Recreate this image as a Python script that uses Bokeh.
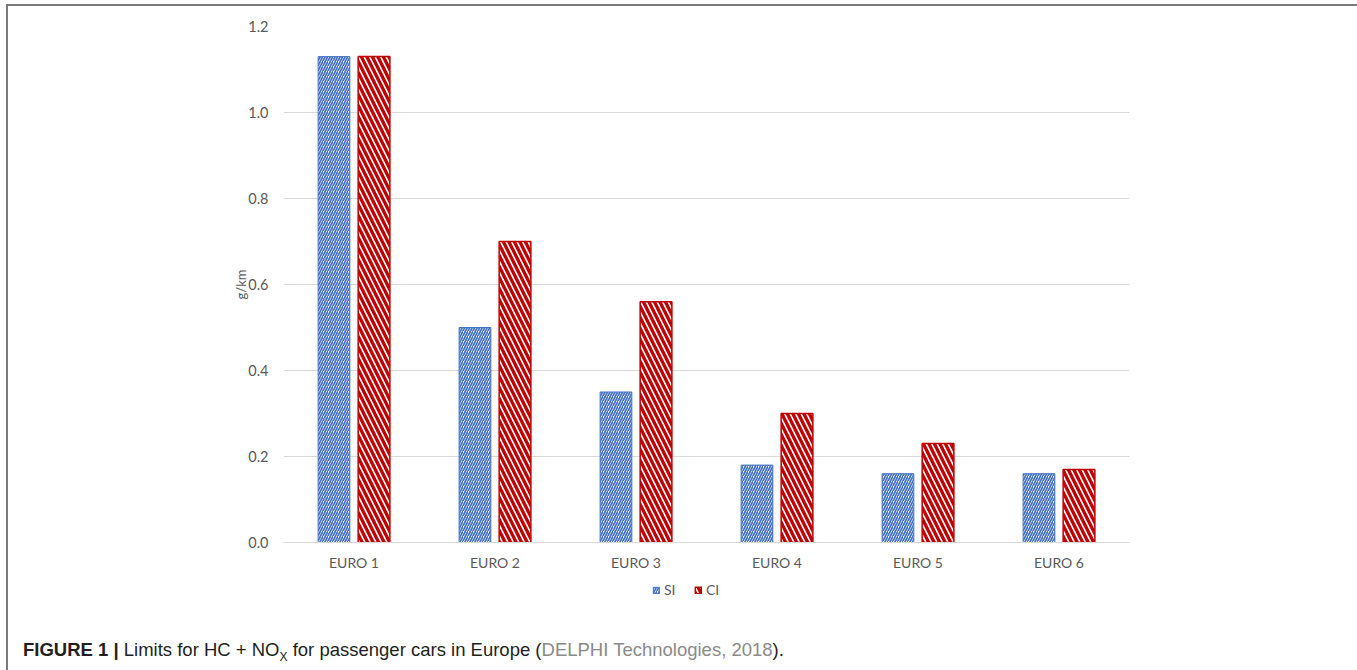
from bokeh.plotting import figure
from bokeh.layouts import column
from bokeh.models import (ColumnDataSource, FactorRange, Range1d, FixedTicker,
                          PrintfTickFormatter, Legend, LegendItem, Div)
from bokeh.transform import dodge
from bokeh.embed import file_html
from bokeh.resources import INLINE

# Emission limits (g/km) for HC + NOx, passenger cars
categories = ["EURO 1", "EURO 2", "EURO 3", "EURO 4", "EURO 5", "EURO 6"]
si_values = [1.13, 0.50, 0.35, 0.18, 0.16, 0.16]
ci_values = [1.13, 0.70, 0.56, 0.30, 0.23, 0.17]
y_ticks = [0.0, 0.2, 0.4, 0.6, 0.8, 1.0, 1.2]
series_labels = ["SI", "CI"]

source = ColumnDataSource(dict(cat=categories, si=si_values, ci=ci_values))

TICK_FONT = "Lato"
GREY_TEXT = "#595959"
SI_BLUE = "#4472C4"
CI_RED = "#C00000"
FRAME_GREY = "#7a7a7a"

SI_STYLE = dict(fill_color="white", line_color=SI_BLUE, line_width=1,
                hatch_pattern="right_diagonal_line", hatch_color=SI_BLUE,
                hatch_scale=5, hatch_weight=1.7)
CI_STYLE = dict(fill_color="white", line_color=CI_RED, line_width=1.5,
                hatch_pattern="left_diagonal_line", hatch_color=CI_RED,
                hatch_scale=11, hatch_weight=3.3)

p = figure(
    x_range=FactorRange(*categories),
    y_range=Range1d(0, 1.2),
    width=1347, height=574,
    output_backend="svg", toolbar_location=None,
    min_border_left=275, min_border_right=226,
    min_border_top=20, min_border_bottom=38,
    background_fill_color="white", border_fill_color="white",
)
p.outline_line_color = None

r_si = p.vbar(x=dodge("cat", -0.142, range=p.x_range), top="si", width=0.225,
              source=source, **SI_STYLE)
r_ci = p.vbar(x=dodge("cat", 0.142, range=p.x_range), top="ci", width=0.225,
              source=source, **CI_STYLE)

# y axis
p.yaxis.ticker = FixedTicker(ticks=y_ticks)
p.yaxis.formatter = PrintfTickFormatter(format="%.1f")
p.yaxis.axis_line_color = None
p.yaxis.major_tick_line_color = None
p.yaxis.major_tick_out = 0
p.yaxis.minor_tick_line_color = None
p.yaxis.major_label_standoff = 15
p.yaxis.major_label_text_font = TICK_FONT
p.yaxis.major_label_text_font_size = "14.5px"
p.yaxis.major_label_text_color = GREY_TEXT
p.yaxis.axis_label = "g/km"
p.yaxis.axis_label_text_font = TICK_FONT
p.yaxis.axis_label_text_font_size = "13px"
p.yaxis.axis_label_text_font_style = "normal"
p.yaxis.axis_label_text_color = GREY_TEXT
p.yaxis.axis_label_standoff = -4

# x axis
p.xaxis.axis_line_color = "#d9d9d9"
p.xaxis.axis_line_width = 1
p.xaxis.major_tick_line_color = None
p.xaxis.major_tick_out = 0
p.xaxis.minor_tick_line_color = None
p.xaxis.major_label_standoff = 11
p.xaxis.major_label_text_font = TICK_FONT
p.xaxis.major_label_text_font_size = "14px"
p.xaxis.major_label_text_color = GREY_TEXT

# grid
p.xgrid.grid_line_color = None
p.ygrid.ticker = FixedTicker(ticks=y_ticks)
p.ygrid.grid_line_color = "#d9d9d9"
p.ygrid.grid_line_width = 1

# legend strip under the chart; its renderers are zero-area proxies that
# carry the bar styles for the legend swatches
key = figure(
    width=1347, height=30, output_backend="svg", toolbar_location=None,
    min_border=0, x_range=FactorRange(*categories), y_range=Range1d(1000, 1001),
    background_fill_color="white", border_fill_color="white",
)
key.axis.visible = False
key.grid.visible = False
key.outline_line_color = None
k_si = key.vbar(x="cat", top="si", bottom="si", width=0, source=source, **SI_STYLE)
k_ci = key.vbar(x="cat", top="ci", bottom="ci", width=0, source=source, **CI_STYLE)
legend = Legend(
    items=[LegendItem(label=series_labels[0], renderers=[k_si]),
           LegendItem(label=series_labels[1], renderers=[k_ci])],
    orientation="horizontal", location=(369, 12),
    glyph_width=8, glyph_height=8, label_standoff=4, spacing=10,
    label_height=14, padding=0, margin=0,
    border_line_color=None, background_fill_alpha=0,
    label_text_font=TICK_FONT, label_text_font_size="14px",
    label_text_color=GREY_TEXT,
)
key.add_layout(legend)

caption = Div(
    text=('<span style="font-weight:bold">FIGURE 1 |</span> Limits for HC + NO<sub style="font-size:12px">X</sub>'
          ' for passenger cars in Europe (<span style="color:#8a8a8a">DELPHI Technologies, 2018</span>).'),
    width=1347, height=60,
    styles={"font-family": "Liberation Sans", "font-size": "18.5px", "line-height": "22px",
            "color": "#231f20", "padding-left": "10px", "padding-top": "24px",
            "box-sizing": "border-box"},
)

page = column(
    p, key, caption,
    styles={"margin-left": "6px", "margin-top": "4px",
            "border-top": f"2px solid {FRAME_GREY}",
            "border-left": f"2px solid {FRAME_GREY}",
            "border-right": f"2px solid {FRAME_GREY}"},
)

open("out.html", "w").write(file_html(page, INLINE))
